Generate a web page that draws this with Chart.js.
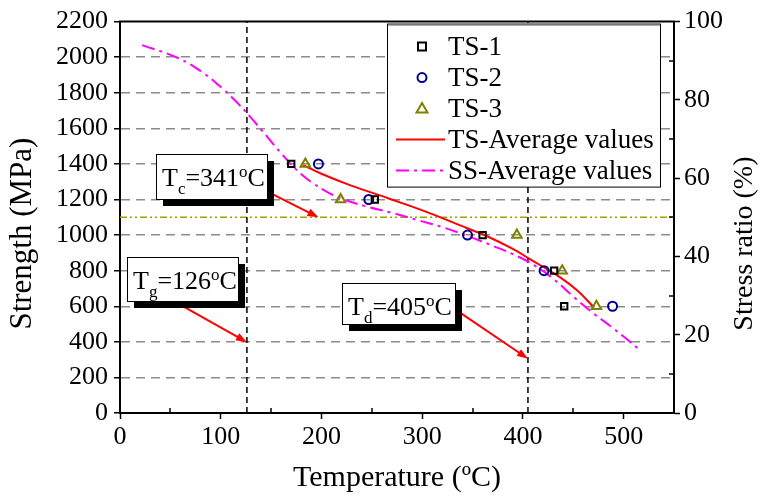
<!DOCTYPE html>
<html>
<head>
<meta charset="utf-8">
<script src="https://cdn.jsdelivr.net/npm/chart.js@4/dist/chart.umd.min.js"></script>
<style>
  html, body { margin: 0; padding: 0; background: #fff; }
  #wrap { width: 767px; height: 501px; }
</style>
</head>
<body>
<div id="wrap"><canvas id="graph"></canvas></div>
<script>
// Values
const xTicks = [0, 100, 200, 300, 400, 500];
const xMinorTicks = [50, 150, 250, 350, 450, 550];
const ratioMinorTicks = [10, 30, 50, 70, 90];

const ts1Temp = [170, 253, 360, 431, 441];
const ts1Strength = [1400, 1200, 1000, 800, 600];
const ts2Temp = [197, 247, 345, 421, 489];
const ts2Strength = [1400, 1200, 1000, 800, 600];
const ts3Temp = [184, 219, 394, 439, 473];
const ts3Strength = [1400, 1200, 1000, 800, 600];

const tsAvgTemp = [182, 200, 225, 258, 280, 308, 344, 364, 390, 407, 437, 454, 470];
const tsAvgStrength = [1393, 1345, 1288, 1223, 1180, 1122, 1040, 995, 922, 865, 762, 688, 597];

const ssAvgTemp = [22, 58, 83, 103, 118, 130, 145, 160, 175, 190, 205, 220, 245, 270, 295, 320, 345, 370, 390, 410, 430, 450, 470, 490, 516];
const ssAvgStrength = [2068, 1994, 1910, 1817, 1735, 1660, 1560, 1460, 1368, 1298, 1245, 1205, 1160, 1125, 1085, 1045, 995, 940, 893, 835, 755, 655, 560, 475, 355];

const refTemps = [126, 405];   // Tg and Td dashed lines
const halfStrength = 1100;      // 50 % stress ratio line

// Callout boxes: box = [xFrom, xTo, yTop, yBottom], arrow = [x1, y1, x2, y2] in data units
const notes = [
  { sub: 'c', value: '=341', box: [36, 146, 1454, 1203], arrow: [139, 1265, 197, 1100] },
  { sub: 'g', value: '=126', box: [7, 117, 875, 630], arrow: [53, 630, 126, 398] },
  { sub: 'd', value: '=405', box: [220, 333, 730, 501], arrow: [335, 574, 405, 305] },
];

const SERIF = '"Liberation Serif", "Times New Roman", serif';

function pairs(xs, ys) {
  return xs.map((x, i) => ({ x: x, y: ys[i] }));
}

function drawArrow(ctx, x1, y1, x2, y2) {
  const a = Math.atan2(y2 - y1, x2 - x1);
  const len = 11, w = 4;
  ctx.save();
  ctx.strokeStyle = '#ff0000';
  ctx.fillStyle = '#ff0000';
  ctx.lineWidth = 2;
  ctx.beginPath();
  ctx.moveTo(x1, y1);
  ctx.lineTo(x2 - Math.cos(a) * len * 0.8, y2 - Math.sin(a) * len * 0.8);
  ctx.stroke();
  ctx.beginPath();
  ctx.moveTo(x2, y2);
  ctx.lineTo(x2 - Math.cos(a) * len - Math.sin(a) * w, y2 - Math.sin(a) * len + Math.cos(a) * w);
  ctx.lineTo(x2 - Math.cos(a) * len + Math.sin(a) * w, y2 - Math.sin(a) * len - Math.cos(a) * w);
  ctx.closePath();
  ctx.fill();
  ctx.restore();
}

// Callout boxes with drop shadow, subscript and raised "o"
const notesPlugin = {
  id: 'notes',
  afterDatasetsDraw(chart) {
    const ctx = chart.ctx;
    const sx = chart.scales.x, sy = chart.scales.y;
    notes.forEach((n) => {
      drawArrow(ctx, sx.getPixelForValue(n.arrow[0]), sy.getPixelForValue(n.arrow[1]),
        sx.getPixelForValue(n.arrow[2]), sy.getPixelForValue(n.arrow[3]));
      const l = Math.round(sx.getPixelForValue(n.box[0]));
      const r = Math.round(sx.getPixelForValue(n.box[1]));
      const t = Math.round(sy.getPixelForValue(n.box[2]));
      const b = Math.round(sy.getPixelForValue(n.box[3]));
      ctx.save();
      ctx.fillStyle = '#000';
      ctx.fillRect(l + 7, t + 7, r - l, b - t);
      ctx.fillStyle = '#fff';
      ctx.fillRect(l, t, r - l, b - t);
      ctx.strokeStyle = '#000';
      ctx.lineWidth = 1;
      ctx.strokeRect(l + 0.5, t + 0.5, r - l, b - t);
      ctx.fillStyle = '#000';
      ctx.textBaseline = 'alphabetic';
      ctx.textAlign = 'left';
      let x = l + 6;
      const base = t + 32;
      ctx.font = '26px ' + SERIF;
      ctx.fillText('T', x, base);
      x += ctx.measureText('T').width;
      ctx.font = '17px ' + SERIF;
      ctx.fillText(n.sub, x, base + 8);
      x += ctx.measureText(n.sub).width;
      ctx.font = '26px ' + SERIF;
      ctx.fillText(n.value, x, base);
      x += ctx.measureText(n.value).width;
      ctx.font = '17px ' + SERIF;
      ctx.fillText('o', x, base - 9);
      x += ctx.measureText('o').width;
      ctx.font = '26px ' + SERIF;
      ctx.fillText('C', x, base);
      ctx.restore();
    });
  }
};

function drawMarker(ctx, style, color, x, y) {
  ctx.save();
  ctx.strokeStyle = color;
  ctx.lineWidth = 2;
  ctx.beginPath();
  if (style === 'rect') {
    ctx.rect(x - 4, y - 4, 8, 8);
  } else if (style === 'circle') {
    ctx.arc(x, y, 4.5, 0, Math.PI * 2);
  } else if (style === 'triangle') {
    ctx.moveTo(x, y - 5.5);
    ctx.lineTo(x + 5.5, y + 4);
    ctx.lineTo(x - 5.5, y + 4);
    ctx.closePath();
  }
  ctx.stroke();
  ctx.restore();
}

// Legend box in the upper right corner of the plot
const legendPlugin = {
  id: 'boxLegend',
  afterDatasetsDraw(chart) {
    const ctx = chart.ctx;
    const area = chart.chartArea;
    const l = area.right - 287, r = area.right - 14;
    const t = area.top + 2, b = area.top + 165;
    ctx.save();
    ctx.fillStyle = '#fff';
    ctx.fillRect(l, t, r - l, b - t);
    ctx.strokeStyle = '#000';
    ctx.lineWidth = 1;
    ctx.strokeRect(l + 0.5, t + 0.5, r - l, b - t);
    ctx.fillStyle = '#777';
    ctx.fillRect(l + 1, t, r - l - 1, 2);
    const items = chart.data.datasets.filter((d) => d.inLegend);
    items.forEach((d, i) => {
      const y = t + 23 + i * 31;
      if (d.showLine) {
        ctx.save();
        ctx.strokeStyle = d.borderColor;
        ctx.lineWidth = 2;
        ctx.setLineDash(d.borderDash || []);
        ctx.beginPath();
        ctx.moveTo(l + 9, y);
        ctx.lineTo(l + 58, y);
        ctx.stroke();
        ctx.restore();
      } else {
        drawMarker(ctx, d.pointStyle, d.borderColor, l + 35, y);
      }
      ctx.fillStyle = '#000';
      ctx.font = '27px ' + SERIF;
      ctx.textBaseline = 'middle';
      ctx.textAlign = 'left';
      ctx.fillText(d.label, l + 61, y + 1);
    });
    ctx.restore();
  }
};

// Frame on top, inward minor ticks and the two vertical axis titles
const framePlugin = {
  id: 'frame',
  afterDraw(chart) {
    const ctx = chart.ctx;
    const area = chart.chartArea;
    const sx = chart.scales.x, sr = chart.scales.y1;
    ctx.save();
    ctx.strokeStyle = '#000';
    ctx.lineWidth = 2;
    ctx.beginPath();
    ctx.moveTo(area.left - 1, area.top);
    ctx.lineTo(area.right + 1, area.top);
    ctx.stroke();
    ctx.lineWidth = 1.5;
    xMinorTicks.forEach((v) => {
      const px = Math.round(sx.getPixelForValue(v));
      ctx.beginPath();
      ctx.moveTo(px, area.bottom);
      ctx.lineTo(px, area.bottom - 5);
      ctx.stroke();
    });
    ratioMinorTicks.forEach((v) => {
      const py = Math.round(sr.getPixelForValue(v));
      ctx.beginPath();
      ctx.moveTo(area.right, py);
      ctx.lineTo(area.right - 5, py);
      ctx.stroke();
    });
    ctx.fillStyle = '#000';
    ctx.textAlign = 'center';
    ctx.textBaseline = 'middle';
    ctx.font = '31px ' + SERIF;
    ctx.save();
    ctx.translate(23, area.top + 212);
    ctx.rotate(-Math.PI / 2);
    ctx.fillText('Strength (MPa)', 0, 0);
    ctx.restore();
    ctx.font = '28px ' + SERIF;
    ctx.save();
    ctx.translate(745, area.top + 222);
    ctx.rotate(-Math.PI / 2);
    ctx.fillText('Stress ratio (%)', 0, 0);
    ctx.restore();
    ctx.restore();
  }
};

function scatterSet(label, xs, ys, style, color, radius) {
  return {
    label: label, inLegend: true,
    data: pairs(xs, ys),
    pointStyle: style, pointRadius: radius,
    borderColor: color, pointBorderWidth: 2, backgroundColor: 'rgba(0,0,0,0)',
    showLine: false
  };
}

const tickFont = { family: SERIF, size: 26 };
const plain = (v) => String(v);

const ctx = document.getElementById('graph').getContext('2d');
const chart = new Chart(ctx, {
  type: 'scatter',
  data: {
    datasets: [
      scatterSet('TS-1', ts1Temp, ts1Strength, 'rect', '#000000', 4.5),
      scatterSet('TS-2', ts2Temp, ts2Strength, 'circle', '#00008b', 4.5),
      scatterSet('TS-3', ts3Temp, ts3Strength, 'triangle', '#808000', 5.5),
      {
        label: 'TS-Average values', inLegend: true,
        data: pairs(tsAvgTemp, tsAvgStrength),
        showLine: true, pointRadius: 0, borderColor: '#ff0000', borderWidth: 2,
        tension: 0.4
      },
      {
        label: 'SS-Average values', inLegend: true,
        data: pairs(ssAvgTemp, ssAvgStrength),
        showLine: true, pointRadius: 0, borderColor: '#ff00ff', borderWidth: 2,
        borderDash: [13, 5, 3, 5], tension: 0.4
      },
      {
        label: 'Tg', data: [{ x: refTemps[0], y: 0 }, { x: refTemps[0], y: 2200 }],
        showLine: true, pointRadius: 0, borderColor: '#000', borderWidth: 1.5, borderDash: [6, 4]
      },
      {
        label: 'Td', data: [{ x: refTemps[1], y: 0 }, { x: refTemps[1], y: 2200 }],
        showLine: true, pointRadius: 0, borderColor: '#000', borderWidth: 1.5, borderDash: [6, 4]
      },
      {
        label: '50%', data: [{ x: 0, y: halfStrength }, { x: 550, y: halfStrength }],
        showLine: true, pointRadius: 0, borderColor: '#a0a000', borderWidth: 1.5,
        borderDash: [7, 3, 2, 3, 2, 3]
      }
    ]
  },
  options: {
    responsive: true,
    maintainAspectRatio: false,
    animation: false,
    layout: { padding: { top: 18, left: 0, right: 0, bottom: 0 } },
    plugins: {
      legend: { display: false },
      tooltip: { enabled: false }
    },
    scales: {
      x: {
        type: 'linear', min: 0, max: 550,
        afterBuildTicks: (scale) => { scale.ticks = xTicks.map((v) => ({ value: v })); },
        afterFit: (scale) => { scale.height = 88; },
        grid: { drawOnChartArea: false, tickLength: 6, tickColor: '#000', tickWidth: 1.5 },
        border: { color: '#000', width: 2 },
        ticks: { color: '#000', padding: 3, font: tickFont, callback: plain },
        title: {
          display: true, text: 'Temperature (ºC)', color: '#000',
          font: { family: SERIF, size: 30 }, padding: { top: 0, bottom: 5 }
        }
      },
      y: {
        position: 'left', min: 0, max: 2200,
        afterFit: (scale) => { scale.width = 120; },
        grid: {
          color: (c) => (c.tick && (c.tick.value === 0 || c.tick.value === 2200)) ? 'rgba(0,0,0,0)' : '#8c8c8c',
          lineWidth: 1.5, tickLength: 6, tickColor: '#000', tickWidth: 1.5
        },
        border: { color: '#000', width: 2, dash: [9, 6] },
        ticks: { stepSize: 200, color: '#000', padding: 6, font: tickFont, callback: plain }
      },
      y1: {
        position: 'right', min: 0, max: 100,
        afterFit: (scale) => { scale.width = 93; },
        grid: { drawOnChartArea: false, tickLength: 6, tickColor: '#000', tickWidth: 1.5 },
        border: { color: '#000', width: 2 },
        ticks: { stepSize: 20, color: '#000', padding: 4, font: tickFont, callback: plain }
      }
    }
  },
  plugins: [notesPlugin, legendPlugin, framePlugin]
});
</script>
</body>
</html>
